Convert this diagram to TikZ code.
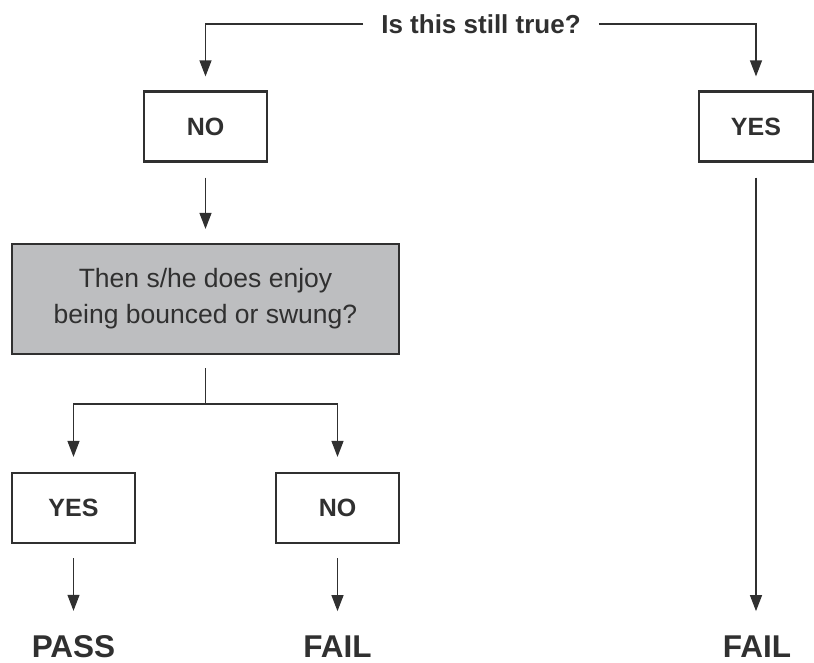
\documentclass[tikz,border=0pt]{standalone}
\usepackage{fontspec}
\setmainfont{Liberation Sans}
\usetikzlibrary{arrows.meta}
\definecolor{ink}{HTML}{303030}
\definecolor{panel}{HTML}{BDBEC0}
\begin{document}
\begin{tikzpicture}[x=1pt,y=-1pt,
  every node/.style={text=ink},
  answer/.style={draw=ink,line width=2.2pt,minimum width=123pt,minimum height=70pt,
    inner sep=0pt,font=\fontsize{25}{30}\selectfont\bfseries},
  question/.style={draw=ink,line width=2.2pt,fill=panel,minimum width=387pt,minimum height=110pt,
    inner sep=0pt,align=center,font=\fontsize{26.5}{36}\selectfont},
  verdict/.style={inner sep=0pt,anchor=base,font=\fontsize{31.5}{36}\selectfont\bfseries},
  link/.style={draw=ink,line width=1.2pt},
  flow/.style={link,-{Triangle[length=16pt,width=12pt]}}]
\useasboundingbox (0,0) rectangle (814,662);

% heading question
\node[inner xsep=18pt,inner ysep=0pt,font=\fontsize{26}{30}\selectfont\bfseries] (title) at (481,24) {Is this still true?};

% first level answers
\node[answer] (no1)  at (205.5,126.5) {NO};
\node[answer,minimum width=114pt] (yes1) at (756,126.5) {YES};

% follow-up question
\node[question] (q) at (205.5,299) {Then s/he does enjoy\\being bounced or swung?};
\coordinate (split) at (205.5,404);

% second level answers
\node[answer] (yes2) at (73.5,508) {YES};
\node[answer] (no2)  at (337.5,508) {NO};

% outcomes
\node[verdict] (pass)  at (73.5,657) {PASS};
\node[verdict] (fail1) at (337.5,657) {FAIL};
\node[verdict] (fail2) at (757,657) {FAIL};

% connectors
\draw[flow,shorten >=14pt] (title.west) -| (no1.north);
\draw[flow,shorten >=14pt] (title.east) -| (yes1.north);
\draw[flow,shorten <=15pt,shorten >=14pt] (no1.south) -- (q.north);
\draw[link,shorten <=13pt] (q.south) -- (split);
\draw[flow,shorten >=15pt] (split) -| (yes2.north);
\draw[flow,shorten >=15pt] (split) -| (no2.north);
\draw[flow,shorten <=14pt,shorten >=24pt] (yes2.south) -- (pass.north);
\draw[flow,shorten <=14pt,shorten >=24pt] (no2.south) -- (fail1.north);
\draw[flow,shorten <=15pt,shorten >=24pt] (yes1.south) -- (fail2.north -| yes1.south);
\end{tikzpicture}
\end{document}
